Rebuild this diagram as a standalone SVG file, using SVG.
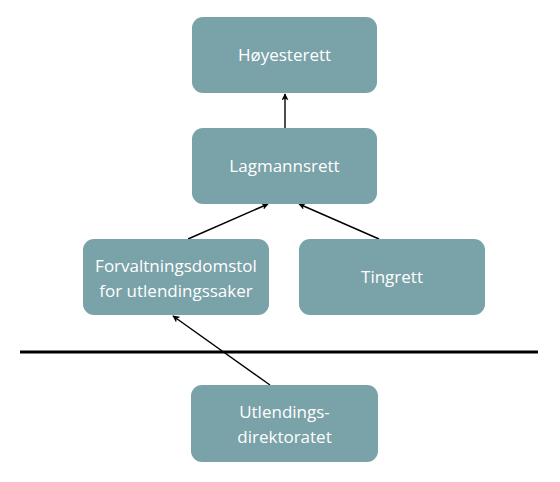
<svg xmlns="http://www.w3.org/2000/svg" width="560" height="482" viewBox="0 0 560 482">
<style>
.box{fill:#79A2A9;}
.t{font-family:"Open Sans","Liberation Sans",sans-serif;font-size:17px;fill:#ffffff;text-anchor:middle;}
.c{stroke:#000;stroke-width:1.4;fill:none;marker-end:url(#ah);}
</style>
<defs>
<marker id="ah" viewBox="0 0 10 10" refX="9" refY="5" markerWidth="7" markerHeight="7" markerUnits="userSpaceOnUse" orient="auto">
<path d="M0,0 L10,5 L0,10 L2.5,5 Z" fill="#000"/>
</marker>
</defs>
<rect x="0" y="0" width="560" height="482" fill="#fff"/>
<g id="connectors">
<line class="c" x1="285" y1="128" x2="285" y2="94"/>
<line class="c" x1="188" y1="239" x2="268" y2="204"/>
<line class="c" x1="379" y1="239" x2="299" y2="204"/>
<line class="c" x1="270" y1="385" x2="173" y2="316"/>
</g>
<line id="divider" x1="20" y1="352" x2="538" y2="352" stroke="#000" stroke-width="3"/>
<g id="hoyesterett">
<rect class="box" x="192" y="17" width="185" height="76" rx="11"/>
<text class="t" x="284.5" y="61">Høyesterett</text>
</g>
<g id="lagmannsrett">
<rect class="box" x="192" y="128" width="185" height="76" rx="11"/>
<text class="t" x="284.5" y="172">Lagmannsrett</text>
</g>
<g id="forvaltningsdomstol">
<rect class="box" x="83" y="239" width="186" height="76" rx="11"/>
<text class="t" x="176" y="272">Forvaltningsdomstol</text>
<text class="t" x="176" y="297">for utlendingssaker</text>
</g>
<g id="tingrett">
<rect class="box" x="299" y="239" width="186" height="76" rx="11"/>
<text class="t" x="392" y="283">Tingrett</text>
</g>
<g id="utlendingsdirektoratet">
<rect class="box" x="191" y="385" width="187" height="77" rx="11"/>
<text class="t" x="284.5" y="418">Utlendings-</text>
<text class="t" x="284.5" y="443">direktoratet</text>
</g>
</svg>
